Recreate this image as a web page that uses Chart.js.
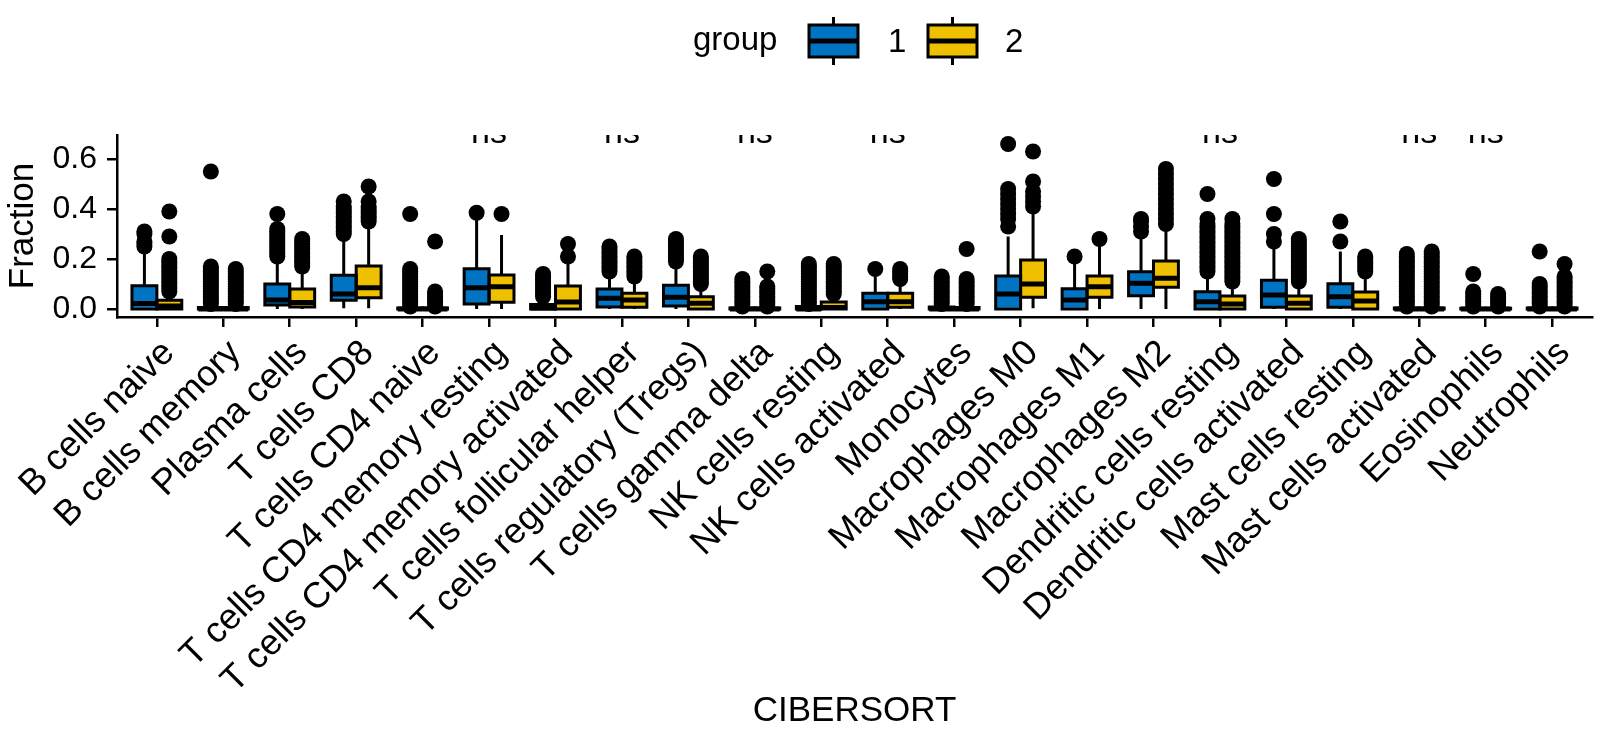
<!DOCTYPE html>
<html>
<head>
<meta charset="utf-8">
<title>CIBERSORT fractions by group</title>
<script src="https://cdn.jsdelivr.net/npm/chart.js@4.4.1/dist/chart.umd.min.js"></script>
<style>
    html, body { margin: 0; padding: 0; background: #fff; }
    #wrap { width: 1600px; height: 740px; }
</style>
</head>
<body>
<div id="wrap"><canvas id="chart" width="1600" height="740"></canvas></div>
<script>
// CIBERSORT immune cell fractions, group 1 vs group 2 (boxplot)

const categories = [
    'B cells naive', 'B cells memory', 'Plasma cells', 'T cells CD8', 'T cells CD4 naive',
    'T cells CD4 memory resting', 'T cells CD4 memory activated', 'T cells follicular helper',
    'T cells regulatory (Tregs)', 'T cells gamma delta', 'NK cells resting', 'NK cells activated',
    'Monocytes', 'Macrophages M0', 'Macrophages M1', 'Macrophages M2', 'Dendritic cells resting',
    'Dendritic cells activated', 'Mast cells resting', 'Mast cells activated', 'Eosinophils', 'Neutrophils'
];
const groupNames = ['1', '2'];
const groupColors = ['#0073C2', '#EFC000'];

// significance label per category (ggpubr puts it above the panel, so it gets clipped)
const pLabels = ['', '', '', '', '', 'ns', '', 'ns', '', 'ns', '', 'ns', '', '', '', '', 'ns', '', '', 'ns', 'ns', ''];
const pLabelY = 0.664;

const yTicks = [0, 0.2, 0.4, 0.6];

// group 1 box stats
const g1Low  = [0, 0, 0, 0.003, 0, 0, 0, 0, 0, 0, 0, 0, 0, 0, 0, 0, 0, 0, 0, 0, 0, 0];
const g1Q1   = [0, 0, 0.016, 0.035, 0, 0.02, 0, 0.008, 0.012, 0, 0, 0, 0, 0, 0, 0.053, 0, 0.007, 0.007, 0, 0, 0];
const g1Med  = [0.022, 0, 0.036, 0.06, 0, 0.085, 0.004, 0.043, 0.047, 0, 0, 0.029, 0, 0.06, 0.036, 0.103, 0.029, 0.056, 0.049, 0, 0, 0];
const g1Q3   = [0.093, 0.006, 0.1, 0.135, 0.004, 0.161, 0.018, 0.08, 0.095, 0.004, 0.01, 0.063, 0.008, 0.132, 0.081, 0.149, 0.069, 0.115, 0.101, 0.004, 0.003, 0.004];
const g1High = [0.23, 0.015, 0.2, 0.29, 0.008, 0.37, 0.04, 0.14, 0.18, 0.01, 0.02, 0.13, 0.015, 0.29, 0.183, 0.283, 0.143, 0.243, 0.23, 0.01, 0.006, 0.008];

// group 2 box stats
const g2Low  = [0, 0, 0, 0.003, 0, 0, 0, 0, 0, 0, 0, 0, 0, 0.003, 0, 0, 0, 0, 0, 0, 0, 0];
const g2Q1   = [0, 0, 0.008, 0.045, 0, 0.027, 0, 0.007, 0, 0, 0, 0.007, 0, 0.047, 0.047, 0.087, 0, 0, 0, 0, 0, 0];
const g2Med  = [0.012, 0, 0.026, 0.085, 0, 0.089, 0.028, 0.036, 0.023, 0, 0.006, 0.029, 0, 0.1, 0.089, 0.123, 0.02, 0.023, 0.032, 0, 0, 0];
const g2Q3   = [0.035, 0.006, 0.08, 0.172, 0.004, 0.136, 0.092, 0.063, 0.049, 0.004, 0.028, 0.063, 0.006, 0.196, 0.132, 0.192, 0.052, 0.052, 0.068, 0.004, 0.003, 0.004];
const g2High = [0.065, 0.015, 0.16, 0.34, 0.008, 0.296, 0.19, 0.11, 0.09, 0.01, 0.05, 0.1, 0.012, 0.396, 0.263, 0.323, 0.1, 0.1, 0.143, 0.01, 0.006, 0.008];

// outlying points
const g1Outliers = [
    [0.25, 0.26, 0.27, 0.3, 0.31],
    [0.02, 0.03, 0.04, 0.05, 0.06, 0.07, 0.08, 0.09, 0.1, 0.11, 0.12, 0.13, 0.14, 0.15, 0.16, 0.17, 0.55],
    [0.21, 0.22, 0.23, 0.24, 0.25, 0.26, 0.27, 0.28, 0.29, 0.3, 0.31, 0.32, 0.38],
    [0.3, 0.31, 0.32, 0.33, 0.34, 0.35, 0.36, 0.37, 0.38, 0.39, 0.4, 0.41, 0.43],
    [0.01, 0.02, 0.03, 0.04, 0.05, 0.06, 0.07, 0.08, 0.09, 0.1, 0.11, 0.12, 0.13, 0.14, 0.15, 0.16, 0.38],
    [0.385],
    [0.05, 0.06, 0.07, 0.08, 0.09, 0.1, 0.11, 0.12, 0.13, 0.14],
    [0.15, 0.16, 0.17, 0.18, 0.19, 0.2, 0.21, 0.22, 0.23, 0.24, 0.25],
    [0.19, 0.2, 0.21, 0.22, 0.23, 0.24, 0.25, 0.26, 0.27, 0.28],
    [0.01, 0.02, 0.03, 0.04, 0.05, 0.06, 0.07, 0.08, 0.09, 0.1, 0.11, 0.12],
    [0.02, 0.03, 0.04, 0.05, 0.06, 0.07, 0.08, 0.09, 0.1, 0.11, 0.12, 0.13, 0.14, 0.15, 0.16, 0.17, 0.18],
    [0.16],
    [0.02, 0.03, 0.04, 0.05, 0.06, 0.07, 0.08, 0.09, 0.1, 0.11, 0.12, 0.13],
    [0.33, 0.36, 0.38, 0.4, 0.42, 0.44, 0.46, 0.48, 0.66],
    [0.21],
    [0.31, 0.33, 0.35, 0.36],
    [0.15, 0.16, 0.17, 0.18, 0.19, 0.2, 0.21, 0.22, 0.23, 0.24, 0.25, 0.26, 0.27, 0.28, 0.29, 0.3, 0.31, 0.32, 0.33, 0.34, 0.36, 0.46],
    [0.27, 0.3, 0.38, 0.52],
    [0.27, 0.35],
    [0.01, 0.02, 0.03, 0.04, 0.05, 0.06, 0.07, 0.08, 0.09, 0.1, 0.11, 0.12, 0.13, 0.14, 0.15, 0.16, 0.17, 0.18, 0.19, 0.2, 0.21, 0.22],
    [0.01, 0.02, 0.03, 0.04, 0.05, 0.06, 0.07, 0.14],
    [0.01, 0.02, 0.03, 0.04, 0.05, 0.06, 0.07, 0.08, 0.09, 0.1, 0.23]
];
const g2Outliers = [
    [0.07, 0.08, 0.09, 0.1, 0.11, 0.12, 0.13, 0.14, 0.15, 0.16, 0.17, 0.18, 0.19, 0.2, 0.29, 0.39],
    [0.02, 0.03, 0.04, 0.05, 0.06, 0.07, 0.08, 0.09, 0.1, 0.11, 0.12, 0.13, 0.14, 0.15, 0.16],
    [0.17, 0.18, 0.19, 0.2, 0.21, 0.22, 0.23, 0.24, 0.25, 0.26, 0.27, 0.28],
    [0.35, 0.36, 0.37, 0.38, 0.39, 0.4, 0.41, 0.43, 0.49],
    [0.01, 0.02, 0.03, 0.04, 0.05, 0.06, 0.07, 0.27],
    [0.38],
    [0.21, 0.26],
    [0.13, 0.14, 0.15, 0.16, 0.17, 0.18, 0.19, 0.2, 0.21],
    [0.1, 0.11, 0.12, 0.13, 0.14, 0.15, 0.16, 0.17, 0.18, 0.19, 0.2, 0.21],
    [0.01, 0.02, 0.03, 0.04, 0.05, 0.06, 0.07, 0.08, 0.09, 0.15],
    [0.06, 0.07, 0.08, 0.09, 0.1, 0.11, 0.12, 0.13, 0.14, 0.15, 0.16, 0.17, 0.18],
    [0.12, 0.13, 0.14, 0.15, 0.16],
    [0.02, 0.03, 0.04, 0.05, 0.06, 0.07, 0.08, 0.09, 0.1, 0.11, 0.12, 0.24],
    [0.41, 0.43, 0.45, 0.47, 0.51, 0.63],
    [0.28],
    [0.34, 0.36, 0.38, 0.4, 0.42, 0.44, 0.46, 0.48, 0.5, 0.52, 0.54, 0.56],
    [0.11, 0.12, 0.13, 0.14, 0.15, 0.16, 0.17, 0.18, 0.19, 0.2, 0.21, 0.22, 0.23, 0.24, 0.25, 0.26, 0.27, 0.28, 0.29, 0.3, 0.31, 0.32, 0.33, 0.34, 0.36],
    [0.11, 0.12, 0.13, 0.14, 0.15, 0.16, 0.17, 0.18, 0.19, 0.2, 0.21, 0.22, 0.23, 0.24, 0.25, 0.26, 0.27, 0.28],
    [0.15, 0.16, 0.17, 0.18, 0.19, 0.2, 0.21],
    [0.01, 0.02, 0.03, 0.04, 0.05, 0.06, 0.07, 0.08, 0.09, 0.1, 0.11, 0.12, 0.13, 0.14, 0.15, 0.16, 0.17, 0.18, 0.19, 0.2, 0.21, 0.22, 0.23],
    [0.01, 0.02, 0.03, 0.04, 0.05, 0.06],
    [0.01, 0.02, 0.03, 0.04, 0.05, 0.06, 0.07, 0.08, 0.09, 0.1, 0.11, 0.12, 0.13, 0.18]
];

const stats = [
    { low: g1Low, q1: g1Q1, med: g1Med, q3: g1Q3, high: g1High },
    { low: g2Low, q1: g2Q1, med: g2Med, q3: g2Q3, high: g2High }
];

const FONT = 'Liberation Sans, Arial, Helvetica, sans-serif';
const BOX_WIDTH = 0.75;          // dodge width for both boxes together
const DODGE = BOX_WIDTH / 4;     // centre offset of each box
const LINE_W = 3;
const MEDIAN_W = 5;

Chart.defaults.font.family = FONT;
Chart.defaults.color = '#000';

function boxData(q1, q3) {
    return categories.map((c, i) => ({ x: i, y: [q1[i], q3[i]] }));
}

function outlierPoints(outliers, shift) {
    const pts = [];
    outliers.forEach((vals, i) => {
        vals.forEach(v => pts.push({ x: i + shift, y: v }));
    });
    return pts;
}

// whiskers under the boxes, outline + median on top
const boxParts = {
    id: 'boxParts',
    beforeDatasetsDraw(chart) {
        const ctx = chart.ctx;
        const yScale = chart.scales.y;
        ctx.save();
        ctx.strokeStyle = '#000';
        ctx.lineWidth = LINE_W;
        stats.forEach((s, g) => {
            chart.getDatasetMeta(g).data.forEach((bar, i) => {
                ctx.beginPath();
                ctx.moveTo(bar.x, yScale.getPixelForValue(s.high[i]));
                ctx.lineTo(bar.x, yScale.getPixelForValue(s.q3[i]));
                ctx.moveTo(bar.x, yScale.getPixelForValue(s.q1[i]));
                ctx.lineTo(bar.x, yScale.getPixelForValue(s.low[i]));
                ctx.stroke();
            });
        });
        ctx.restore();
    },
    afterDatasetsDraw(chart) {
        const ctx = chart.ctx;
        const yScale = chart.scales.y;
        const xScale = chart.scales.x;
        const area = chart.chartArea;
        ctx.save();
        ctx.strokeStyle = '#000';
        stats.forEach((s, g) => {
            chart.getDatasetMeta(g).data.forEach((bar, i) => {
                const half = bar.width / 2;
                const top = yScale.getPixelForValue(s.q3[i]);
                const bottom = yScale.getPixelForValue(s.q1[i]);
                ctx.lineWidth = LINE_W;
                ctx.strokeRect(bar.x - half, top, bar.width, bottom - top);
                const m = yScale.getPixelForValue(s.med[i]);
                ctx.lineWidth = MEDIAN_W;
                ctx.beginPath();
                ctx.moveTo(bar.x - half, m);
                ctx.lineTo(bar.x + half, m);
                ctx.stroke();
            });
        });

        // p-value labels, clipped by the panel like in the original
        ctx.beginPath();
        ctx.rect(area.left, area.top, area.right - area.left, area.bottom - area.top);
        ctx.clip();
        ctx.fillStyle = '#000';
        ctx.font = '34px ' + FONT;
        ctx.textAlign = 'center';
        ctx.textBaseline = 'alphabetic';
        pLabels.forEach((lab, i) => {
            if (!lab) return;
            ctx.fillText(lab, xScale.getPixelForValue(i), yScale.getPixelForValue(pLabelY));
        });
        ctx.restore();
    }
};

// ggplot style legend: "group" [box] 1 [box] 2
const groupLegend = {
    id: 'groupLegend',
    afterDraw(chart) {
        const ctx = chart.ctx;
        ctx.save();
        ctx.font = '33px ' + FONT;
        ctx.fillStyle = '#000';
        ctx.textBaseline = 'alphabetic';
        ctx.textAlign = 'left';
        ctx.fillText('group', 693, 50);

        const keyX = [809, 928];
        const labelX = [888, 1005];
        groupNames.forEach((name, g) => {
            const x = keyX[g], w = 49, top = 25, h = 32;
            ctx.strokeStyle = '#000';
            ctx.lineWidth = LINE_W;
            ctx.beginPath();
            ctx.moveTo(x + w / 2, 17);
            ctx.lineTo(x + w / 2, 65);
            ctx.stroke();
            ctx.fillStyle = groupColors[g];
            ctx.fillRect(x, top, w, h);
            ctx.strokeRect(x, top, w, h);
            ctx.lineWidth = MEDIAN_W;
            ctx.beginPath();
            ctx.moveTo(x, top + h / 2);
            ctx.lineTo(x + w, top + h / 2);
            ctx.stroke();
            ctx.fillStyle = '#000';
            ctx.fillText(name, labelX[g], 52);
        });
        ctx.restore();
    }
};

const datasets = [
    {
        type: 'bar',
        label: groupNames[0],
        data: boxData(g1Q1, g1Q3),
        backgroundColor: groupColors[0],
        borderWidth: 0,
        order: 1
    },
    {
        type: 'bar',
        label: groupNames[1],
        data: boxData(g2Q1, g2Q3),
        backgroundColor: groupColors[1],
        borderWidth: 0,
        order: 1
    },
    {
        type: 'scatter',
        label: 'outliers 1',
        data: outlierPoints(g1Outliers, -DODGE),
        pointRadius: 8,
        pointBackgroundColor: '#000',
        pointBorderWidth: 0,
        order: 2
    },
    {
        type: 'scatter',
        label: 'outliers 2',
        data: outlierPoints(g2Outliers, DODGE),
        pointRadius: 8,
        pointBackgroundColor: '#000',
        pointBorderWidth: 0,
        order: 2
    }
];

const axisLine = { display: true, color: '#000', width: 2.5 };

new Chart(document.getElementById('chart'), {
    type: 'bar',
    data: { datasets: datasets },
    plugins: [boxParts, groupLegend],
    options: {
        responsive: false,
        devicePixelRatio: 1,
        animation: false,
        events: [],
        layout: { padding: { top: 135, left: 0, right: 5, bottom: 0 } },
        datasets: {
            bar: { categoryPercentage: BOX_WIDTH, barPercentage: 1, grouped: true }
        },
        plugins: {
            legend: { display: false },
            tooltip: { enabled: false }
        },
        scales: {
            x: {
                type: 'linear',
                min: -0.6,
                max: categories.length - 0.4,
                offset: false,
                afterBuildTicks: scale => {
                    scale.ticks = categories.map((c, i) => ({ value: i }));
                },
                afterFit: scale => {
                    scale.height = 423;
                    scale.paddingLeft = 0;
                    scale.paddingRight = 0;
                },
                ticks: {
                    autoSkip: false,
                    minRotation: 45,
                    maxRotation: 45,
                    padding: 5,
                    labelOffset: 12,
                    color: '#000',
                    font: { size: 36, family: FONT },
                    callback: (v, i) => categories[i]
                },
                grid: { offset: false, drawOnChartArea: false, drawTicks: true, tickLength: 10, color: '#000', lineWidth: 2.5 },
                border: axisLine,
                title: {
                    display: true,
                    text: 'CIBERSORT',
                    color: '#000',
                    font: { size: 35, family: FONT },
                    padding: { top: 0, bottom: 8 }
                }
            },
            y: {
                min: -0.032,
                max: 0.696,
                afterBuildTicks: scale => {
                    scale.ticks = yTicks.map(v => ({ value: v }));
                },
                afterFit: scale => {
                    scale.width = 117;
                    scale.paddingTop = 0;
                    scale.paddingBottom = 0;
                },
                ticks: {
                    padding: 10,
                    color: '#000',
                    font: { size: 32, family: FONT },
                    callback: v => v.toFixed(1)
                },
                grid: { drawOnChartArea: false, drawTicks: true, tickLength: 10, color: '#000', lineWidth: 2.5 },
                border: axisLine,
                title: {
                    display: true,
                    text: 'Fraction',
                    color: '#000',
                    font: { size: 35, family: FONT },
                    padding: { top: 2, bottom: 0 }
                }
            }
        }
    }
});
</script>
</body>
</html>
